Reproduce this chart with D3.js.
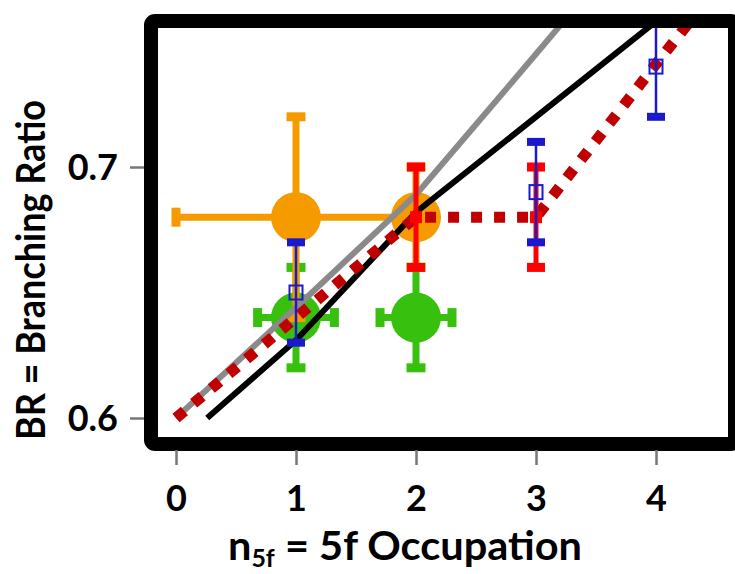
<!DOCTYPE html>
<html>
<head>
<meta charset="utf-8">
<script src="https://cdn.jsdelivr.net/npm/d3@7"></script>
<style>
  body { margin: 0; background: #fff; }
  svg { display: block; }
  text { font-family: Lato, "Open Sans", sans-serif; font-weight: bold; fill: #000; }
</style>
</head>
<body>
<svg id="chart"></svg>
<script>
// ticks
xTicks = [0, 1, 2, 3, 4];
yTicks = [0.6, 0.7];

// lines [n5f, BR]
grayCurve = [[0, 0.600], [1, 0.644], [2, 0.689], [3, 0.745], [3.3, 0.762]];
blackLine = [[0.26, 0.600], [1, 0.631], [2, 0.682], [4, 0.758]];
redDotted = [[0, 0.600], [2, 0.680], [3, 0.680], [4, 0.741], [4.5, 0.771]];

// points with error bars
greenPts = [
  { n: 1, br: 0.64, dn: 0.32, dbr: 0.02 },
  { n: 2, br: 0.64, dn: 0.30, dbr: 0.02 },
];
orangePts = [
  { n: 1, br: 0.68, dn: 1, dbr: 0.04 },
  { n: 2, br: 0.68, dn: 0, dbr: 0.02 },
];
redPts = [
  { n: 2, br: 0.68, dbr: 0.02 },
  { n: 3, br: 0.68, dbr: 0.02 },
];
bluePts = [
  { n: 1, br: 0.65, dbr: 0.02 },
  { n: 3, br: 0.69, dbr: 0.02 },
  { n: 4, br: 0.74, dbr: 0.02 },
];

let width = 735;
let height = 574;

let svg = d3.select("#chart").attr("width", width).attr("height", height);

let xScale = d3.scaleLinear().domain([0, 4]).range([176, 656]);
let yScale = d3.scaleLinear().domain([0.6, 0.7]).range([418, 167]);

// inner plot area (inside the thick frame)
let inner = { x0: 158, y0: 28, x1: 728, y1: 437 };

svg
  .append("clipPath")
  .attr("id", "plotClip")
  .append("rect")
  .attr("x", inner.x0)
  .attr("y", inner.y0)
  .attr("width", inner.x1 - inner.x0)
  .attr("height", inner.y1 - inner.y0);

let plot = svg.append("g").attr("clip-path", "url(#plotClip)");

// error bar helper
function errorBars(g, pts, color, stemW, capW, capH) {
  pts.forEach((p) => {
    let cx = xScale(p.n);
    let cy = yScale(p.br);
    if (p.dbr) {
      let yTop = yScale(p.br + p.dbr);
      let yBot = yScale(p.br - p.dbr);
      g.append("line")
        .attr("x1", cx).attr("x2", cx)
        .attr("y1", yTop).attr("y2", yBot)
        .attr("stroke", color).attr("stroke-width", stemW);
      [yTop, yBot].forEach((yy) => {
        g.append("rect")
          .attr("x", cx - capW / 2).attr("y", yy - capH / 2)
          .attr("width", capW).attr("height", capH)
          .attr("fill", color);
      });
    }
    if (p.dn) {
      let xL = xScale(p.n - p.dn);
      let xR = xScale(p.n + p.dn);
      g.append("line")
        .attr("x1", xL).attr("x2", xR)
        .attr("y1", cy).attr("y2", cy)
        .attr("stroke", color).attr("stroke-width", stemW);
      [xL, xR].forEach((xx) => {
        g.append("rect")
          .attr("x", xx - capH / 2).attr("y", cy - capW / 2)
          .attr("width", capH).attr("height", capW)
          .attr("fill", color);
      });
    }
  });
}

let green = "#38c00f";
let orange = "#f59b00";

// green
let gG = plot.append("g");
errorBars(gG, greenPts, green, 7, 19, 9);
gG.selectAll("circle").data(greenPts).enter().append("circle")
  .attr("cx", (d) => xScale(d.n)).attr("cy", (d) => yScale(d.br))
  .attr("r", 25).attr("fill", green);

// orange
let gO = plot.append("g");
errorBars(gO, orangePts, orange, 7, 19, 9);
gO.selectAll("circle").data(orangePts).enter().append("circle")
  .attr("cx", (d) => xScale(d.n)).attr("cy", (d) => yScale(d.br))
  .attr("r", 25).attr("fill", orange);

let line = d3.line().x((d) => xScale(d[0])).y((d) => yScale(d[1]));

plot.append("path").datum(grayCurve)
  .attr("fill", "none").attr("stroke", "#8a8a8a").attr("stroke-width", 6)
  .attr("d", line);

plot.append("path").datum(blackLine)
  .attr("fill", "none").attr("stroke", "#000").attr("stroke-width", 6)
  .attr("d", line);

plot.append("path").datum(redDotted)
  .attr("fill", "none").attr("stroke", "#c00000").attr("stroke-width", 11)
  .attr("stroke-dasharray", "11,12")
  .attr("d", line);

// red error bars
let gR = plot.append("g");
errorBars(gR, redPts, "#ff0000", 5, 18, 9);
gR.selectAll("rect.mk").data(redPts).enter().append("rect")
  .attr("class", "mk")
  .attr("x", (d) => xScale(d.n) - 6).attr("y", (d) => yScale(d.br) - 6)
  .attr("width", 12).attr("height", 12)
  .attr("fill", "#ff0000");

// blue error bars with open squares
let gB = plot.append("g");
errorBars(gB, bluePts, "#1a1acc", 2.5, 18, 8);
gB.selectAll("rect.sq").data(bluePts).enter().append("rect")
  .attr("class", "sq")
  .attr("x", (d) => xScale(d.n) - 6.5).attr("y", (d) => yScale(d.br) - 7)
  .attr("width", 13).attr("height", 14)
  .attr("fill", "none").attr("stroke", "#1a1acc").attr("stroke-width", 2);

// frame
svg.append("rect")
  .attr("x", 151).attr("y", 21)
  .attr("width", 584).attr("height", 423)
  .attr("rx", 4)
  .attr("fill", "none").attr("stroke", "#000").attr("stroke-width", 14);

// axes
let yAxis = d3.axisLeft(yScale).tickValues(yTicks).tickSize(14).tickPadding(12)
  .tickFormat(d3.format(".1f"));
let gy = svg.append("g").attr("transform", "translate(144,0)").call(yAxis);
gy.select(".domain").remove();
gy.selectAll(".tick line").attr("stroke", "#777").attr("stroke-width", 2.5);
gy.selectAll(".tick text")
  .attr("font-family", "Lato, sans-serif").attr("font-weight", "bold")
  .attr("font-size", 36).attr("fill", "#000").attr("dy", "0.36em");

let xAxis = d3.axisBottom(xScale).tickValues(xTicks).tickSize(15)
  .tickFormat(d3.format("d"));
let gx = svg.append("g").attr("transform", "translate(0,450)").call(xAxis);
gx.select(".domain").remove();
gx.selectAll(".tick line").attr("stroke", "#777").attr("stroke-width", 2.5);
gx.selectAll(".tick text")
  .attr("font-family", "Lato, sans-serif").attr("font-weight", "bold")
  .attr("font-size", 36).attr("fill", "#000")
  .attr("y", 61).attr("dy", 0);

// axis titles
let xt = svg.append("text")
  .attr("x", 228).attr("y", 560)
  .attr("font-size", 40)
  .attr("textLength", 354)
  .attr("lengthAdjust", "spacingAndGlyphs");
xt.append("tspan").text("n");
xt.append("tspan").attr("font-size", 24).attr("dy", 7).text("5f");
xt.append("tspan").attr("dy", -7).text(" = 5f Occupation");

svg.append("text")
  .attr("transform", "translate(45,270) rotate(-90)")
  .attr("text-anchor", "middle")
  .attr("font-size", 40)
  .attr("textLength", 340)
  .attr("lengthAdjust", "spacingAndGlyphs")
  .text("BR = Branching Ratio");
</script>
</body>
</html>
